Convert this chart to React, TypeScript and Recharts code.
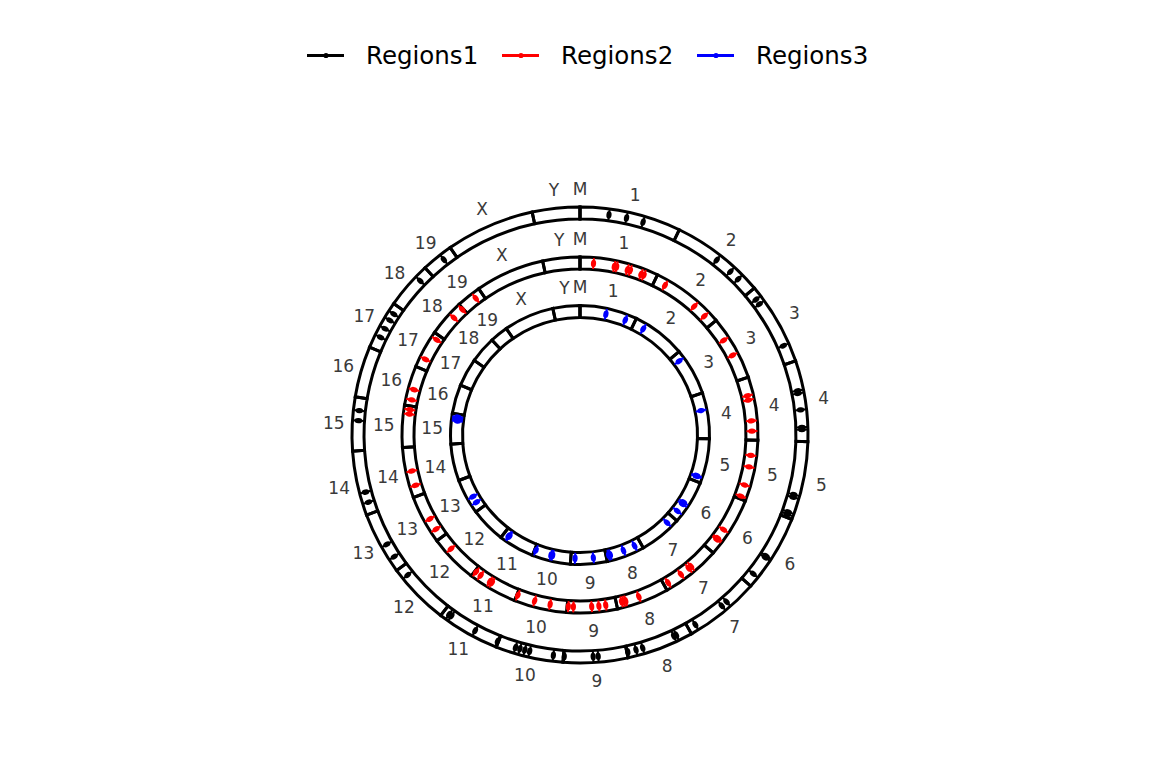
import React from 'react';
import { PieChart, Pie, ScatterChart, Scatter, XAxis, YAxis } from 'recharts';

const CHROMS = ['1', '2', '3', '4', '5', '6', '7', '8', '9', '10', '11', '12', '13', '14', '15', '16', '17', '18', '19', 'X', 'Y', 'M'];
const CHROM_LENGTHS = [195.47, 182.11, 160.04, 156.51, 151.83, 149.74, 145.44, 129.4, 124.6, 130.69, 122.08, 120.13, 120.42, 124.9, 104.04, 98.21, 94.99, 90.7, 61.43, 171.03, 91.74, 0.016];

// [chromosome, position in Mb]
const REGIONS1: [string, number][] = [
  ['1', 56.8], ['1', 91.6], ['1', 124.9],
  ['2', 92.2], ['2', 127.2], ['2', 148.4],
  ['3', 19.2], ['3', 30.5], ['3', 124.4],
  ['4', 56.7], ['4', 62.1], ['4', 94.6], ['4', 128.7], ['4', 133.2],
  ['5', 105.2], ['5', 110.5], ['5', 140.8], ['5', 145.4],
  ['6', 85.2], ['6', 89.0], ['6', 128.4],
  ['7', 54.4], ['7', 66.5], ['7', 130.1],
  ['8', 27.0], ['8', 32.3], ['8', 97.4], ['8', 111.0], ['8', 127.5],
  ['9', 56.6], ['9', 66.5], ['9', 123.0],
  ['10', 19.8], ['10', 66.8], ['10', 76.6], ['10', 86.5], ['10', 95.5],
  ['11', 1.9], ['11', 50.3], ['11', 104.9], ['11', 110.2],
  ['12', 100.2],
  ['13', 24.7], ['13', 52.7],
  ['14', 22.3], ['14', 42.8],
  ['15', 58.7], ['15', 78.4],
  ['17', 26.0], ['17', 45.0], ['17', 63.9], ['17', 78.3],
  ['18', 66.5],
  ['19', 37.9],
];

const REGIONS2: [string, number][] = [
  ['1', 34.1], ['1', 87.1], ['1', 93.1], ['1', 121.1], ['1', 128.7], ['1', 157.5], ['1', 165.0],
  ['2', 28.6], ['2', 119.5], ['2', 155.0],
  ['3', 51.0], ['3', 94.9],
  ['4', 43.8], ['4', 55.2], ['4', 108.2], ['4', 133.9],
  ['5', 38.7], ['5', 68.2], ['5', 115.1], ['5', 144.7],
  ['6', 88.3], ['6', 114.0], ['6', 118.5],
  ['7', 62.7], ['7', 70.3], ['7', 95.2], ['7', 133.9],
  ['8', 70.2], ['8', 105.0], ['8', 110.3], ['8', 115.6],
  ['9', 27.1], ['9', 44.5], ['9', 62.7], ['9', 108.9], ['9', 121.7],
  ['10', 43.3], ['10', 83.4], ['10', 128.1],
  ['11', 70.0], ['11', 76.1], ['11', 104.1], ['11', 118.5],
  ['12', 82.7],
  ['13', 24.7], ['13', 55.0],
  ['14', 26.9], ['14', 64.0],
  ['15', 83.7], ['15', 95.0],
  ['16', 16.0], ['16', 42.5],
  ['17', 26.0], ['17', 82.8],
  ['18', 58.2], ['18', 88.0],
  ['19', 41.7],
];

const REGIONS3: [string, number][] = [
  ['1', 91.6], ['1', 162.8],
  ['2', 37.7],
  ['3', 26.0],
  ['4', 57.5],
  ['5', 131.8], ['5', 135.6],
  ['6', 85.2], ['6', 92.8], ['6', 123.1],
  ['7', 27.9],
  ['8', 23.2], ['8', 65.6], ['8', 114.1], ['8', 120.1],
  ['9', 45.3], ['9', 109.6],
  ['10', 64.5], ['10', 70.6], ['10', 125.8],
  ['11', 100.5], ['11', 104.5],
  ['13', 26.2], ['13', 49.7],
  ['15', 79.9], ['15', 85.2], ['15', 90.5], ['15', 94.3],
];

const SERIES_NAMES = ['Regions1', 'Regions2', 'Regions3'];
const SERIES_COLORS = ['#000000', '#ff0000', '#0000ff'];

const TOTAL = CHROM_LENGTHS.reduce((s, v) => s + v, 0);
const START: Record<string, number> = {};
{
  let acc = 0;
  CHROMS.forEach((c, i) => {
    START[c] = acc;
    acc += CHROM_LENGTHS[i];
  });
}

const karyo = CHROMS.map((c, i) => ({ name: c, len: CHROM_LENGTHS[i] }));

const RINGS = [
  { inner: 216, outer: 228, data: REGIONS1 },
  { inner: 166, outer: 178, data: REGIONS2 },
  { inner: 117.5, outer: 129.5, data: REGIONS3 },
];

const SIZE = 1000;
const CX = 580;
const CY = 434.5;
const HALF = SIZE / 2;

function toPoints(regions: [string, number][], r: number) {
  return regions.map(([c, p]) => {
    const a = ((START[c] + p) / TOTAL) * 2 * Math.PI;
    return { x: r * Math.sin(a), y: r * Math.cos(a), a };
  });
}

const makeLabel = (r: number) => (props: any) => {
  const { cx, cy, midAngle } = props;
  const name = props.name ?? props.payload?.name;
  const rad = (-midAngle * Math.PI) / 180;
  const x = cx + r * Math.cos(rad);
  const y = cy + r * Math.sin(rad);
  return (
    <text
      key={`lbl-${r}-${name}`}
      x={x}
      y={y}
      textAnchor="middle"
      dominantBaseline="central"
      fontFamily="DejaVu Sans"
      fontSize={17}
      fill="#3a3a3a"
    >
      {name}
    </text>
  );
};

const makeShape = (color: string) => (props: any) => {
  const { cx, cy, payload } = props;
  if (cx == null || cy == null) return <g />;
  const a = payload.a;
  const dx = Math.sin(a);
  const dy = -Math.cos(a);
  const h = 5.5;
  const deg = (a * 180) / Math.PI;
  return (
    <g>
      <line x1={cx - dx * h} y1={cy - dy * h} x2={cx + dx * h} y2={cy + dy * h} stroke={color} strokeWidth={2} />
      <ellipse cx={cx} cy={cy} rx={2.6} ry={3.8} fill={color} transform={`rotate(${deg} ${cx} ${cy})`} />
    </g>
  );
};

const LEGEND_X = [307, 502, 697];

export default function App() {
  return (
    <div style={{ position: 'absolute', left: 0, top: 0, width: 1152, height: 768, overflow: 'hidden', background: '#fff' }}>
      <svg width={1152} height={100} style={{ position: 'absolute', left: 0, top: 0 }}>
        {SERIES_NAMES.map((n, i) => (
          <g key={n}>
            <line x1={LEGEND_X[i]} y1={55.5} x2={LEGEND_X[i] + 37} y2={55.5} stroke={SERIES_COLORS[i]} strokeWidth={2.8} />
            <circle cx={LEGEND_X[i] + 19} cy={55.5} r={2.6} fill={SERIES_COLORS[i]} />
            <text x={LEGEND_X[i] + 59} y={64} fontFamily="DejaVu Sans" fontSize={24.5} fill="#000">
              {n}
            </text>
          </g>
        ))}
      </svg>
      <div style={{ position: 'absolute', left: CX - HALF, top: CY - HALF, width: SIZE, height: SIZE }}>
        <div style={{ position: 'absolute', left: 0, top: 0 }}>
          <PieChart width={SIZE} height={SIZE} margin={{ top: 0, right: 0, bottom: 0, left: 0 }}>
            {RINGS.map((ring, i) => (
              <Pie
                key={i}
                data={karyo}
                dataKey="len"
                nameKey="name"
                cx={HALF}
                cy={HALF}
                innerRadius={ring.inner}
                outerRadius={ring.outer}
                startAngle={90}
                endAngle={-270}
                fill="none"
                stroke="#000"
                strokeWidth={3}
                isAnimationActive={false}
                labelLine={false}
                label={makeLabel(ring.outer + 18.5)}
              />
            ))}
          </PieChart>
        </div>
        <div style={{ position: 'absolute', left: 0, top: 0 }}>
          <ScatterChart width={SIZE} height={SIZE} margin={{ top: 0, right: 0, bottom: 0, left: 0 }}>
            <XAxis type="number" dataKey="x" domain={[-HALF, HALF]} tickCount={5} hide />
            <YAxis type="number" dataKey="y" domain={[-HALF, HALF]} tickCount={5} hide />
            {RINGS.map((ring, i) => (
              <Scatter
                key={i}
                name={SERIES_NAMES[i]}
                data={toPoints(ring.data, (ring.inner + ring.outer) / 2)}
                fill={SERIES_COLORS[i]}
                shape={makeShape(SERIES_COLORS[i])}
                isAnimationActive={false}
              />
            ))}
          </ScatterChart>
        </div>
      </div>
    </div>
  );
}
